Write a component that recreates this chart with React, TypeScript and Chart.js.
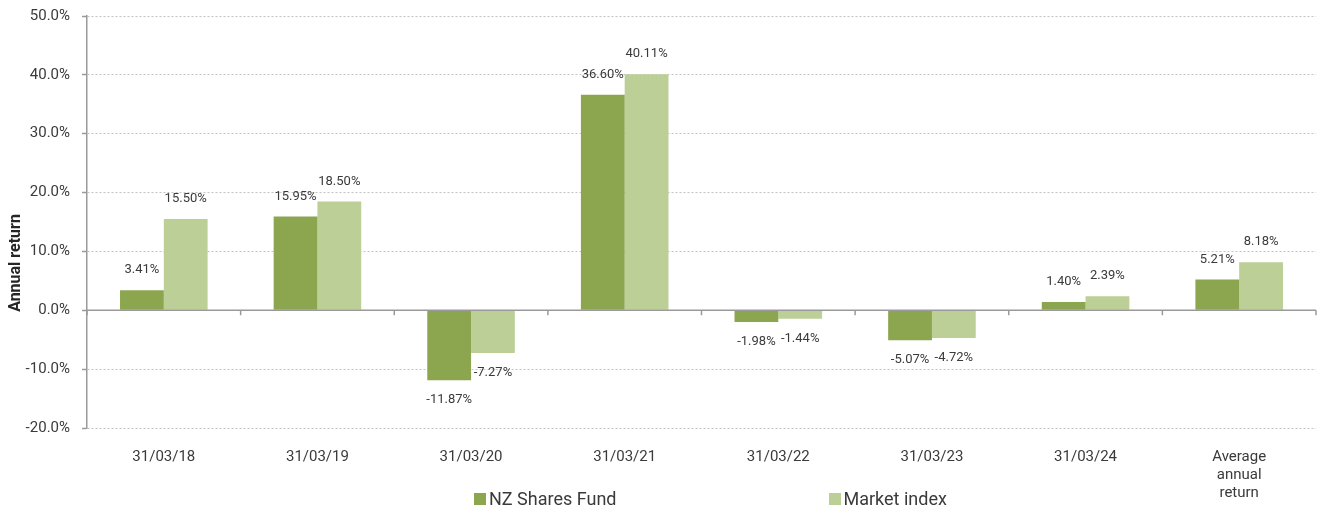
import React, { useEffect, useRef } from 'react';
import { Chart, registerables } from 'chart.js';

Chart.register(...registerables);

const categories: (string | string[])[] = [
  '31/03/18',
  '31/03/19',
  '31/03/20',
  '31/03/21',
  '31/03/22',
  '31/03/23',
  '31/03/24',
  ['Average', 'annual', 'return'],
];
const fundValues = [3.41, 15.95, -11.87, 36.6, -1.98, -5.07, 1.4, 5.21];
const indexValues = [15.5, 18.5, -7.27, 40.11, -1.44, -4.72, 2.39, 8.18];
const seriesNames = ['NZ Shares Fund', 'Market index'];
const yMin = -20;
const yMax = 50;
const yStep = 10;
const yTitle = 'Annual return';

const FUND_COLOR = '#8BA64F';
const INDEX_COLOR = '#BBCF97';
const AXIS_COLOR = '#9A9A9A';
const GRID_COLOR = '#C4C4C4';
const TEXT_COLOR = '#3A3A3A';
const FONT = 'Roboto';

const overlayPlugin = {
  id: 'overlay',
  afterDatasetsDraw(chart: any) {
    const { ctx, chartArea, scales } = chart;
    const x = scales.x;
    const y = scales.y;
    const y0 = y.getPixelForValue(0);
    const n = chart.data.labels.length;
    const half = n > 1 ? (x.getPixelForValue(1) - x.getPixelForValue(0)) / 2 : (chartArea.right - chartArea.left) / 2;
    ctx.save();
    ctx.strokeStyle = AXIS_COLOR;
    ctx.lineWidth = 1.5;
    ctx.beginPath();
    ctx.moveTo(chartArea.left, y0);
    ctx.lineTo(chartArea.right, y0);
    for (let i = 0; i <= n; i++) {
      const px = i < n ? x.getPixelForValue(i) - half : x.getPixelForValue(n - 1) + half;
      ctx.moveTo(px, y0);
      ctx.lineTo(px, y0 + 5);
    }
    ctx.stroke();

    ctx.fillStyle = TEXT_COLOR;
    ctx.font = `13px ${FONT}`;
    ctx.textAlign = 'center';
    ctx.textBaseline = 'middle';
    chart.data.datasets.forEach((ds: any, di: number) => {
      const meta = chart.getDatasetMeta(di);
      meta.data.forEach((bar: any, i: number) => {
        const v = ds.data[i];
        const txt = v.toFixed(2) + '%';
        const ty = v >= 0 ? bar.y - 20 : bar.y + 20;
        ctx.fillText(txt, bar.x, ty);
      });
    });

    // y-axis title (placed like the original, below the plot's midpoint)
    ctx.translate(16, 263);
    ctx.rotate(-Math.PI / 2);
    ctx.fillStyle = '#262626';
    ctx.font = `bold 16px ${FONT}`;
    ctx.textAlign = 'center';
    ctx.textBaseline = 'middle';
    ctx.fillText(yTitle, 0, 0);
    ctx.restore();
  },
};

export default function App() {
  const canvasRef = useRef<HTMLCanvasElement | null>(null);

  useEffect(() => {
    if (!canvasRef.current) return;
    const chart = new Chart(canvasRef.current, {
      type: 'bar',
      data: {
        labels: categories as any,
        datasets: [
          {
            label: seriesNames[0],
            data: fundValues,
            backgroundColor: FUND_COLOR,
            borderWidth: 0,
            barPercentage: 1,
            categoryPercentage: 0.57,
          },
          {
            label: seriesNames[1],
            data: indexValues,
            backgroundColor: INDEX_COLOR,
            borderWidth: 0,
            barPercentage: 1,
            categoryPercentage: 0.57,
          },
        ],
      },
      options: {
        responsive: false,
        animation: false,
        layout: { padding: { left: 0, right: 4, top: 16, bottom: 0 } },
        plugins: {
          legend: { display: false },
          tooltip: { enabled: false },
        },
        scales: {
          x: {
            grid: { display: false, drawTicks: false },
            border: { display: false },
            ticks: {
              color: TEXT_COLOR,
              font: { family: FONT, size: 15 },
              padding: 20,
              maxRotation: 0,
              autoSkip: false,
            },
            afterFit: (scale: any) => {
              scale.height = 84;
            },
          },
          y: {
            min: yMin,
            max: yMax,
            ticks: {
              stepSize: yStep,
              color: TEXT_COLOR,
              font: { family: FONT, size: 15 },
              padding: 12,
              callback: (v: any) => Number(v).toFixed(1) + '%',
            },
            grid: {
              color: (c: any) => (c.tick && c.tick.value === 0 ? 'rgba(0,0,0,0)' : GRID_COLOR),
              lineWidth: 1,
              tickLength: 5,
              tickColor: AXIS_COLOR,
              tickWidth: 1.5,
              tickBorderDash: [],
            } as any,
            border: { display: true, color: AXIS_COLOR, width: 1.5, dash: [2, 2] } as any,
            title: { display: false },
            afterFit: (scale: any) => {
              scale.width = 87;
              scale.paddingTop = 0;
              scale.paddingBottom = 0;
            },
          },
        },
      } as any,
      plugins: [overlayPlugin],
    });
    return () => chart.destroy();
  }, []);

  const legendItem = (name: string, color: string) => (
    <div style={{ display: 'flex', alignItems: 'center' }}>
      <span style={{ display: 'inline-block', width: 12, height: 12, background: color, marginRight: 3 }} />
      <span>{name}</span>
    </div>
  );

  return (
    <div style={{ position: 'absolute', left: 0, top: 0, width: 1320, height: 512, background: '#fff' }}>
      <canvas ref={canvasRef} width={1320} height={512} style={{ display: 'block' }} />
      <div
        style={{
          position: 'absolute',
          left: 474,
          top: 488,
          display: 'flex',
          gap: 212,
          fontFamily: FONT,
          fontSize: 18,
          color: TEXT_COLOR,
          lineHeight: '22px',
        }}
      >
        {legendItem(seriesNames[0], FUND_COLOR)}
        {legendItem(seriesNames[1], INDEX_COLOR)}
      </div>
    </div>
  );
}
